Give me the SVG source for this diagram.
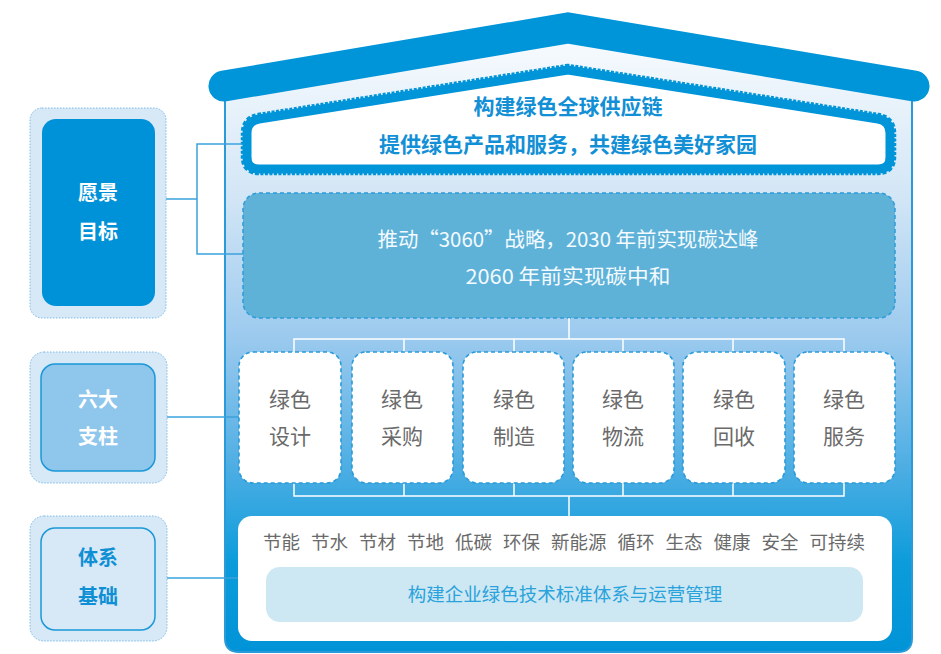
<svg xmlns="http://www.w3.org/2000/svg" width="941" height="654" viewBox="0 0 941 654">
<defs>
<linearGradient id="houseGrad" x1="0" y1="0" x2="0" y2="654" gradientUnits="userSpaceOnUse">
<stop offset="0.08" stop-color="#f4f9fd"/>
<stop offset="0.3" stop-color="#d3e6f6"/>
<stop offset="0.52" stop-color="#9ac9ee"/>
<stop offset="0.72" stop-color="#4badE3"/>
<stop offset="0.86" stop-color="#0c9cdb"/>
<stop offset="1" stop-color="#0093d7"/>
</linearGradient>
<path id="bannerShape" d="M259,119 L568,70 L878,119 Q890,121 890,133 L890,157 Q890,169 878,169 L259,169 Q247,169 247,157 L247,133 Q247,121 259,119 Z"/>
<style>
.cjk{font-family:"Noto Sans CJK SC","Noto Sans",sans-serif;}
.outer{fill:#d7e8f7;stroke:#7dbbe6;stroke-width:1;stroke-dasharray:1.5 1.5;}
.pillar{fill:#ffffff;stroke:#2a9ad8;stroke-width:1.6;stroke-dasharray:4 3;}
.ptxt{font-size:21px;fill:#6a6a6a;text-anchor:middle;}
.kw{font-size:18.5px;fill:#6a6a6a;}
.wl{fill:none;stroke:#ffffff;stroke-width:1.5;}
.bl{fill:none;stroke:#3aa2dd;stroke-width:1.5;}
</style>
</defs>

<g id="house">
<path d="M225,98 L568,38 L912,98 L912,638 Q912,652 898,652 L239,652 Q225,652 225,638 Z" fill="url(#houseGrad)" stroke="#2a9ad8" stroke-width="2"/>
<polyline points="224,86 568,28 914,86" fill="none" stroke="#0094d8" stroke-width="31" stroke-linecap="round" stroke-linejoin="miter"/>
</g>

<g id="banner">
<use href="#bannerShape" fill="none" stroke="#0094d8" stroke-width="12.5" stroke-dasharray="3 1.5" stroke-linejoin="round"/>
<use href="#bannerShape" fill="#ffffff" stroke="#0094d8" stroke-width="9" stroke-linejoin="round"/>
<text class="cjk" x="568" y="114" font-size="21" font-weight="bold" fill="#128fd5" text-anchor="middle">构建绿色全球供应链</text>
<text class="cjk" x="568" y="152" font-size="21" font-weight="bold" fill="#128fd5" text-anchor="middle">提供绿色产品和服务，共建绿色美好家园</text>
</g>

<g id="goal">
<rect x="243" y="193" width="652" height="125" rx="16" fill="#5eb2d8" stroke="#2f9bd8" stroke-width="1.5" stroke-dasharray="4 3"/>
<text class="cjk" x="568" y="247" font-size="20.5" fill="#f4faff" text-anchor="middle" textLength="381" lengthAdjust="spacingAndGlyphs">推动“3060”战略，2030 年前实现碳达峰</text>
<text class="cjk" x="568" y="284" font-size="20.5" fill="#f4faff" text-anchor="middle" textLength="205" lengthAdjust="spacingAndGlyphs">2060 年前实现碳中和</text>
</g>

<g id="connectors">
<path class="wl" d="M569,318 V339 M294,352 V339 H844 V352 M404,339 V352 M514,339 V352 M623,339 V352 M733,339 V352"/>
<path class="wl" d="M294,483 V496 H844 V483 M404,483 V496 M514,483 V496 M623,483 V496 M733,483 V496 M569,496 V516"/>
<path class="bl" d="M166,199 H197 M242,144 H197 V254 H243"/>
<path class="bl" d="M167,417 H239"/>
<path class="bl" d="M167,578 H238"/>
</g>

<g id="p1"><rect class="pillar" x="239" y="352" width="102" height="131" rx="14"/><text class="cjk ptxt" x="290" y="407">绿色</text><text class="cjk ptxt" x="290" y="444">设计</text></g>
<g id="p2"><rect class="pillar" x="352" y="352" width="101" height="131" rx="14"/><text class="cjk ptxt" x="402" y="407">绿色</text><text class="cjk ptxt" x="402" y="444">采购</text></g>
<g id="p3"><rect class="pillar" x="463" y="352" width="101" height="131" rx="14"/><text class="cjk ptxt" x="514" y="407">绿色</text><text class="cjk ptxt" x="514" y="444">制造</text></g>
<g id="p4"><rect class="pillar" x="573" y="352" width="101" height="131" rx="14"/><text class="cjk ptxt" x="623" y="407">绿色</text><text class="cjk ptxt" x="623" y="444">物流</text></g>
<g id="p5"><rect class="pillar" x="683" y="352" width="102" height="131" rx="14"/><text class="cjk ptxt" x="734" y="407">绿色</text><text class="cjk ptxt" x="734" y="444">回收</text></g>
<g id="p6"><rect class="pillar" x="794" y="352" width="101" height="131" rx="14"/><text class="cjk ptxt" x="844" y="407">绿色</text><text class="cjk ptxt" x="844" y="444">服务</text></g>

<g id="base">
<rect x="238" y="516" width="654" height="125" rx="14" fill="#ffffff"/>
<text class="cjk kw" y="549"><tspan x="263">节能</tspan><tspan x="311">节水</tspan><tspan x="359">节材</tspan><tspan x="407">节地</tspan><tspan x="455">低碳</tspan><tspan x="503">环保</tspan><tspan x="551">新能源</tspan><tspan x="617.5">循环</tspan><tspan x="665.5">生态</tspan><tspan x="713.5">健康</tspan><tspan x="761.5">安全</tspan><tspan x="809.5">可持续</tspan></text>
<rect x="266" y="567" width="597" height="55" rx="14" fill="#cde8f2"/>
<text class="cjk" x="565" y="601" font-size="18.5" fill="#2aa2dc" text-anchor="middle">构建企业绿色技术标准体系与运营管理</text>
</g>

<g id="vision">
<rect class="outer" x="30" y="108" width="136" height="210" rx="12"/>
<rect x="42" y="119" width="113" height="187" rx="14" fill="#0092d8"/>
<text class="cjk" x="98" y="200" font-size="20" font-weight="bold" fill="#ffffff" text-anchor="middle">愿景</text>
<text class="cjk" x="98" y="239" font-size="20" font-weight="bold" fill="#ffffff" text-anchor="middle">目标</text>
</g>

<g id="pillars">
<rect class="outer" x="30" y="352" width="137" height="131" rx="14"/>
<rect x="41" y="364" width="114" height="107" rx="14" fill="#8fc6ec" stroke="#1a98d8" stroke-width="1.5"/>
<text class="cjk" x="98" y="407" font-size="20" font-weight="bold" fill="#ffffff" text-anchor="middle">六大</text>
<text class="cjk" x="98" y="444" font-size="20" font-weight="bold" fill="#ffffff" text-anchor="middle">支柱</text>
</g>

<g id="foundation">
<rect class="outer" x="30" y="516" width="137" height="125" rx="14"/>
<rect x="41" y="528" width="114" height="102" rx="14" fill="#d7e8f7" stroke="#1a98d8" stroke-width="1.5"/>
<text class="cjk" x="98" y="565" font-size="20" font-weight="bold" fill="#0f8fd4" text-anchor="middle">体系</text>
<text class="cjk" x="98" y="604" font-size="20" font-weight="bold" fill="#0f8fd4" text-anchor="middle">基础</text>
</g>
</svg>
